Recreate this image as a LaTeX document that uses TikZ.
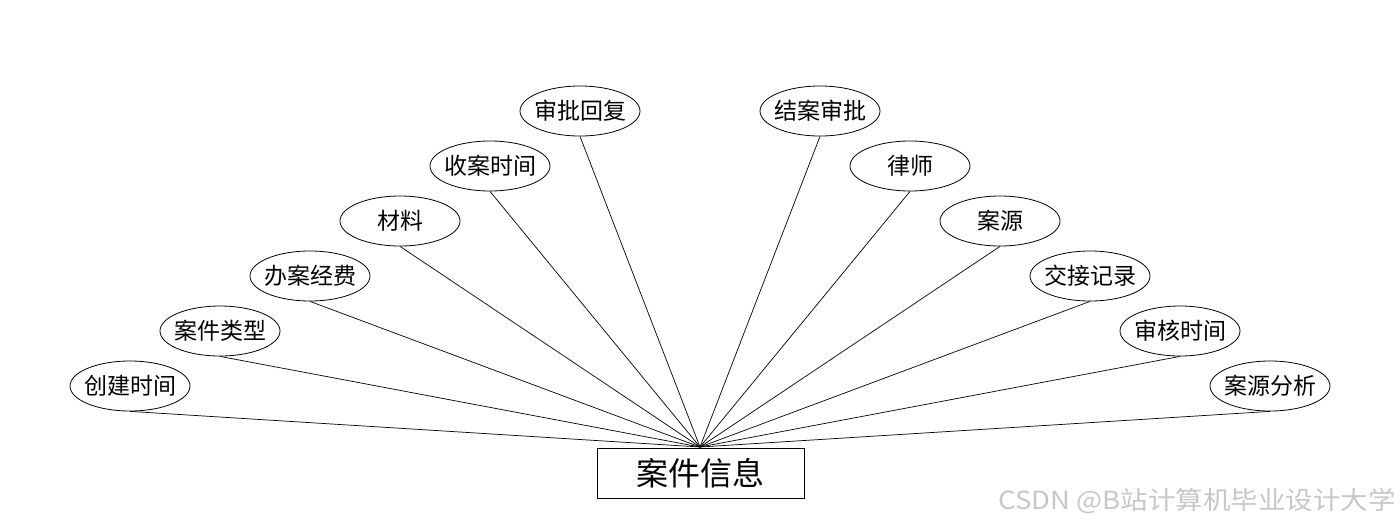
\documentclass[tikz,border=0pt]{standalone}
\usepackage{graphicx}
\usepackage{fontspec}
\newfontfamily\cjk{Noto Sans CJK SC}
\usetikzlibrary{shapes.geometric}
\newcommand{\attrtext}[1]{\makebox[60pt]{#1}}
\tikzset{
  attr/.style={draw, ellipse, line width=0.8pt, minimum width=120pt, minimum height=50pt, inner sep=0pt, font=\cjk\fontsize{23pt}{23pt}\selectfont},
  ent/.style={draw, rectangle, line width=0.8pt, minimum width=207pt, minimum height=50pt, inner sep=0pt, font=\cjk\fontsize{32pt}{32pt}\selectfont},
  link/.style={line width=0.7pt}
}
\begin{document}
\begin{tikzpicture}[x=1pt,y=-1pt]
\useasboundingbox (0,0) rectangle (1400,528);
\node[ent] (e) at (700.5,473) {案件信息};
\coordinate (hub) at (700,447);
\node[attr] (a1) at (130,386) {\attrtext{创建时间}};
\node[attr] (a2) at (220,331) {\attrtext{案件类型}};
\node[attr] (a3) at (310,276) {\attrtext{办案经费}};
\node[attr] (a4) at (400,221) {\attrtext{材料}};
\node[attr] (a5) at (490,166) {\attrtext{收案时间}};
\node[attr] (a6) at (580,111) {\attrtext{审批回复}};
\node[attr] (b1) at (820,111) {\attrtext{结案审批}};
\node[attr] (b2) at (910,166) {\attrtext{律师}};
\node[attr] (b3) at (1000,221) {\attrtext{案源}};
\node[attr] (b4) at (1090,276) {\attrtext{交接记录}};
\node[attr] (b5) at (1180,331) {\attrtext{审核时间}};
\node[attr] (b6) at (1270,386) {\attrtext{案源分析}};
\foreach \n in {a1,a2,a3,a4,a5,a6,b1,b2,b3,b4,b5,b6}
  \draw[link] (\n.south) -- (hub);
\node[anchor=east, text=black!22, font=\cjk\fontsize{25pt}{25pt}\selectfont, inner sep=0pt] (wm) at (1396,501) {\scalebox{1.1}[1]{CSDN @B站计算机毕业设计大学}};
\end{tikzpicture}
\end{document}
